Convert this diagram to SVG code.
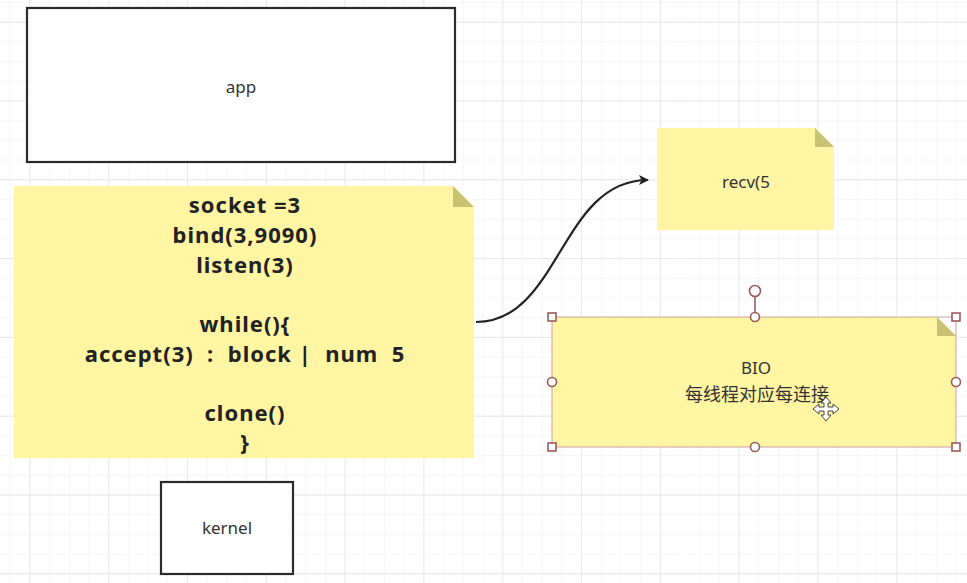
<svg xmlns="http://www.w3.org/2000/svg" width="967" height="583" viewBox="0 0 967 583">
<style>
.box{fill:#ffffff;stroke:#2b2b2b;stroke-width:2.2}
.note{fill:#fff5a3}
.fold{fill:#c9c272}
.lbl{font-family:"Noto Sans","Noto Sans CJK SC",sans-serif;font-size:17px;fill:#333;text-anchor:middle}
.cjk{font-family:"Noto Sans CJK SC",sans-serif;font-size:18px;fill:#333;text-anchor:middle}
.code{font-family:"Noto Sans","Liberation Sans",sans-serif;font-size:22px;letter-spacing:1px;font-weight:bold;fill:#222;text-anchor:middle;white-space:pre}
.h{fill:#ffffff;stroke:#9b5a5a;stroke-width:1.6}
.edge{fill:none;stroke:#222;stroke-width:2.2}
</style>
<defs>
<pattern id="minor" x="29.4" y="21.7" width="19.7" height="19.7" patternUnits="userSpaceOnUse">
<path d="M0,0V19.7M0,0H19.7" fill="none" stroke="#efefef" stroke-width="1"/>
</pattern>
<pattern id="major" x="29.4" y="21.7" width="78.8" height="78.8" patternUnits="userSpaceOnUse">
<path d="M0,0V78.8M0,0H78.8" fill="none" stroke="#e2e2e2" stroke-width="1.3"/>
</pattern>
<marker id="arr" markerWidth="10" markerHeight="10" refX="9" refY="5" orient="auto" markerUnits="userSpaceOnUse" viewBox="0 0 10 10">
<path d="M0,0L10,5L0,10L2.5,5Z" fill="#222"/>
</marker>
</defs>
<rect width="967" height="583" fill="#ffffff"/>
<rect width="967" height="583" fill="url(#minor)"/>
<rect width="967" height="583" fill="url(#major)"/>

<g id="connectors">
<path class="edge" d="M476,322 C560,322 560,180 648,180" marker-end="url(#arr)"/>
</g>

<g id="app">
<rect class="box" x="27" y="8" width="428" height="154"/>
<text class="lbl" x="241" y="93">app</text>
</g>

<g id="code">
<path class="note" d="M14,186H453L474,207V458H14Z"/>
<path class="fold" d="M453,186L474,207H453Z"/>
<text class="code" x="245" y="213">socket =3</text>
<text class="code" x="245" y="243">bind(3,9090)</text>
<text class="code" x="245" y="273">listen(3)</text>
<text class="code" x="245" y="332">while(){</text>
<text class="code" x="245" y="362" xml:space="preserve">accept(3)  :  block |  num  5</text>
<text class="code" x="245" y="421">clone()</text>
<text class="code" x="245" y="450">}</text>
</g>

<g id="kernel">
<rect class="box" x="161" y="482" width="132" height="92"/>
<text class="lbl" x="227" y="534">kernel</text>
</g>

<g id="recv">
<path class="note" d="M657,128H815L834,147V230H657Z"/>
<path class="fold" d="M815,128L834,147H815Z"/>
<text class="lbl" x="746" y="188">recv(5</text>
</g>

<g id="bio">
<path class="note" d="M552,317H937L956,336V447H552Z"/>
<path class="fold" d="M937,317L956,336H937Z"/>
<rect x="552" y="317" width="404" height="130" fill="none" stroke="#cfa0a0" stroke-width="1"/>
<text class="lbl" x="756" y="374">BIO</text>
<text class="cjk" x="757" y="401">每线程对应每连接</text>
<line x1="755" y1="296" x2="755" y2="313" stroke="#9b5a5a" stroke-width="1.6"/>
<circle class="h" cx="755" cy="291" r="5.5"/>
<rect class="h" x="548" y="313" width="8" height="8"/>
<rect class="h" x="952" y="313" width="8" height="8"/>
<rect class="h" x="548" y="443" width="8" height="8"/>
<rect class="h" x="952" y="443" width="8" height="8"/>
<circle class="h" cx="755" cy="317" r="4.5"/>
<circle class="h" cx="552" cy="382" r="4.5"/>
<circle class="h" cx="956" cy="382" r="4.5"/>
<circle class="h" cx="755" cy="447" r="4.5"/>
<path d="M826,397L831,403H828V407H833V404L839,409L833,414V411H828V415H831L826,421L821,415H824V411H819V414L813,409L819,404V407H824V403H821Z" fill="#ffffff" stroke="#444" stroke-width="1"/>
</g>
</svg>
